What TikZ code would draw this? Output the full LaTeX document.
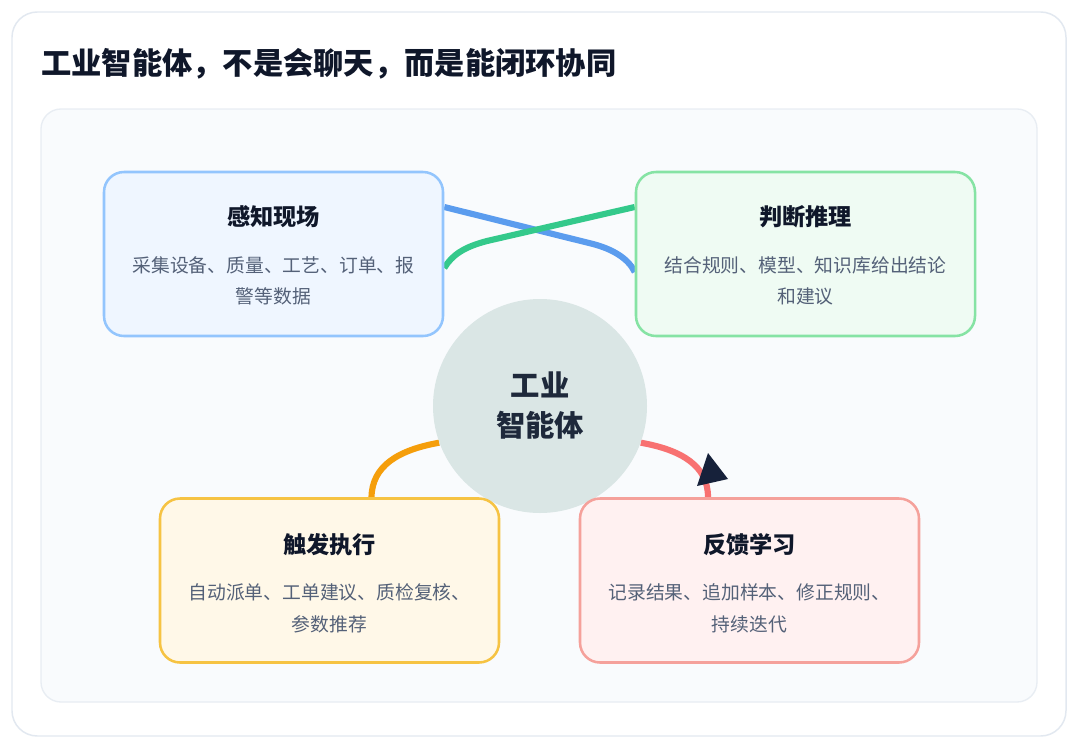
\documentclass[tikz,border=0pt]{standalone}
\usepackage{fontspec}
\setmainfont{Noto Sans CJK SC}
\usetikzlibrary{calc}
\pgfdeclarelayer{bg}
\pgfdeclarelayer{conn}
\pgfsetlayers{bg,conn,main}
\definecolor{inktitle}{HTML}{0F172A}
\definecolor{inkdesc}{HTML}{546178}
\definecolor{inkcircle}{HTML}{1E293B}
\definecolor{cardline}{HTML}{E2E8F0}
\definecolor{panelfill}{HTML}{F9FBFD}
\definecolor{panelline}{HTML}{E8EDF3}
\definecolor{bluefill}{HTML}{EFF6FF}
\definecolor{blueline}{HTML}{93C5FD}
\definecolor{greenfill}{HTML}{EFFBF3}
\definecolor{greenline}{HTML}{86E3A4}
\definecolor{yellowfill}{HTML}{FFF8E8}
\definecolor{yellowline}{HTML}{F6C343}
\definecolor{redfill}{HTML}{FFF1F1}
\definecolor{redline}{HTML}{F5A19B}
\definecolor{circfill}{HTML}{DAE6E5}
\definecolor{cblue}{HTML}{5B9CEE}
\definecolor{cgreen}{HTML}{34C98B}
\definecolor{corange}{HTML}{F59E0B}
\definecolor{cred}{HTML}{F87171}
\definecolor{navy}{HTML}{16213A}
\begin{document}
\begin{tikzpicture}[x=0.75pt,y=-0.75pt,
  stagebox/.style={rectangle, rounded corners=15pt, line width=1.9pt,
    minimum width=254.25pt, minimum height=123pt, inner sep=0pt},
  stagetitle/.style={font=\fontsize{17.4pt}{21pt}\selectfont\bfseries, text=inktitle, inner sep=0pt},
  stagedesc/.style={font=\fontsize{14.1pt}{17pt}\selectfont, text=inkdesc, inner sep=0pt},
  conn/.style={line width=4.6pt},
  hub/.style={circle, fill=circfill, minimum size=160.5pt, inner sep=0pt,
    font=\fontsize{22pt}{30pt}\selectfont\bfseries, text=inkcircle, align=center}
]
\useasboundingbox (0,0) rectangle (1080,750);
\begin{pgfonlayer}{bg}
\fill[white] (0,0) rectangle (1080,750);
\draw[cardline, line width=1.1pt, fill=white, rounded corners=19pt] (12,12) rectangle (1066,736);
\draw[panelline, line width=1pt, fill=panelfill, rounded corners=15pt] (41,109) rectangle (1037,702);
\end{pgfonlayer}

\node[font=\fontsize{22.7pt}{27pt}\selectfont\bfseries, text=inktitle, anchor=west, inner sep=0pt] (ttl) at (41,64) {工业智能体，不是会聊天，而是能闭环协同};

\node[hub] (c) at (540,406) {工业\\智能体};

\node[stagebox, fill=bluefill, draw=blueline] (b1) at (273.5,254) {};
\node[stagebox, fill=greenfill, draw=greenline] (b2) at (805.5,254) {};
\node[stagebox, fill=yellowfill, draw=yellowline] (b3) at (329.5,580.5) {};
\node[stagebox, fill=redfill, draw=redline] (b4) at (749.5,580.5) {};

\node[stagetitle] (t1) at ($(b1.north)+(0,46)$) {感知现场};
\node[stagedesc] (d1a) at ($(b1.north)+(0,95)$) {采集设备、质量、工艺、订单、报};
\node[stagedesc] (d1b) at ($(b1.north)+(0,126)$) {警等数据};

\node[stagetitle] (t2) at ($(b2.north)+(0,46)$) {判断推理};
\node[stagedesc] (d2a) at ($(b2.north)+(0,95)$) {结合规则、模型、知识库给出结论};
\node[stagedesc] (d2b) at ($(b2.north)+(0,126)$) {和建议};

\node[stagetitle] (t3) at ($(b3.north)+(0,47)$) {触发执行};
\node[stagedesc] (d3a) at ($(b3.north)+(0,95)$) {自动派单、工单建议、质检复核、};
\node[stagedesc] (d3b) at ($(b3.north)+(0,127)$) {参数推荐};

\node[stagetitle] (t4) at ($(b4.north)+(0,47)$) {反馈学习};
\node[stagedesc] (d4a) at ($(b4.north)+(0,95)$) {记录结果、追加样本、修正规则、};
\node[stagedesc] (d4b) at ($(b4.north)+(0,127)$) {持续迭代};

\begin{pgfonlayer}{conn}
\draw[conn, cblue] ($(b1.east)+(0,-47)$) -- (593,244)
  .. controls (612,249) and (628,258) .. ($(b2.west)+(0,18)$);
\draw[conn, cgreen] ($(b1.east)+(0,14)$) .. controls (452,255) and (464,247) .. (487,241)
  -- ($(b2.west)+(0,-47)$);
\draw[conn, corange] ($(b3.north)+(42,0)$) .. controls (372,466) and (398,450) .. (c.200);
\draw[conn, cred] (c.-20) .. controls (682,450) and (708,466) .. ($(b4.north)+(-41.5,0)$);
\end{pgfonlayer}

\fill[navy] (708,453) -- (728,479) -- (697,486) -- cycle;
\end{tikzpicture}
\end{document}
